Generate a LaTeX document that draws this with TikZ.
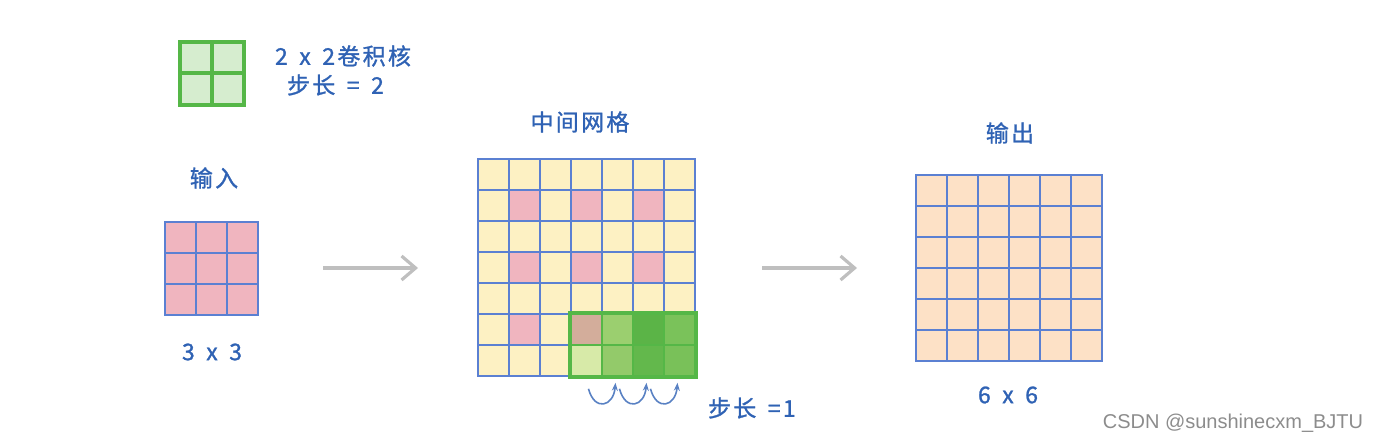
\documentclass[tikz,border=0pt]{standalone}
\usepackage{fontspec}
\setmainfont{Liberation Sans}
\newfontfamily\cjk[FakeBold=1.2, LetterSpace=10]{Noto Sans CJK SC}
\usetikzlibrary{arrows.meta}

\definecolor{gridblue}{HTML}{5B80D2}
\definecolor{textblue}{HTML}{2F62B4}
\definecolor{pinkcell}{HTML}{F0B5BF}
\definecolor{yellowcell}{HTML}{FDF1C3}
\definecolor{peachcell}{HTML}{FDE1C6}
\definecolor{kgreen}{HTML}{55B747}
\definecolor{kfill}{HTML}{D6EDCF}

\tikzset{
  cell/.style={draw=gridblue, line width=0.8pt, minimum size=15.5pt, inner sep=0pt},
  kcell/.style={draw=kgreen, line width=1.6pt, minimum size=16pt, inner sep=0pt, fill=kfill},
  title/.style={text=textblue, font=\cjk\fontsize{11.5}{13}\selectfont},
  flow/.style={draw=black!25, line width=1.6pt, -{Straight Barb[length=7pt, width=12pt]}},
  hop/.style={draw=textblue!80, line width=0.8pt, -{Stealth[length=4pt]}},
}

\begin{document}
\begin{tikzpicture}[x=0.5pt, y=-0.5pt]
    \useasboundingbox (0,0) rectangle (1383,444);

    % kernel icon
    \foreach \r in {0,1}
      \foreach \c in {0,1}
        \node[kcell] (k-\r-\c) at ({196+32*\c}, {58+31*\r}) {};
    \node[title, anchor=west] (ktext) at (268,56) {2\enspace x\enspace 2卷积核};
    \node[title, anchor=west] (stride2) at (280,85) {步长\enspace =\enspace 2};

    % input 3x3
    \node[title] (intitle) at (214,178) {输入};
    \foreach \r in {0,...,2}
      \foreach \c in {0,...,2}
        \node[cell, fill=pinkcell] (i-\r-\c) at ({180.5+31*\c}, {237.5+31*\r}) {};
    \node[title] (insize) at (212,352) {3\enspace x\enspace 3};

    % middle 7x7
    \node[title] (midtitle) at (580,122) {中间网格};
    \foreach \r in {0,...,6}
      \foreach \c in {0,...,6}
        \node[cell, fill=yellowcell] (m-\r-\c) at ({493.5+31*\c}, {174.5+31*\r}) {};
    \foreach \r/\c in {1/1,1/3,1/5,3/1,3/3,3/5,5/1}
        \node[cell, fill=pinkcell] at (m-\r-\c) {};

    % kernel sliding over the last rows
    \foreach \r/\c/\shade in {5/3/D3AD9B,5/4/9BCF6F,5/5/5BB447,5/6/7AC25A,
                              6/3/D7EAA8,6/4/93CA6A,6/5/63B84C,6/6/79C159}
      {
        \definecolor{tmp}{HTML}{\shade}
        \node[cell, draw=kgreen, line width=1.4pt, fill=tmp] at (m-\r-\c) {};
      }
    \draw[kgreen, line width=2pt] (m-5-3.north west) rectangle (m-6-6.south east);

    % stride 1 hops
    \foreach \a/\b in {3/4,4/5,5/6}
        \draw[hop] ([xshift=1pt, yshift=-6pt]m-6-\a.south)
            to[out=-75, in=-95, looseness=2.2] ([xshift=-1pt, yshift=-3pt]m-6-\b.south);
    \node[title, anchor=west] (stride1) at (701,408) {步长\enspace =1};

    % arrows
    \coordinate (a1s) at (323,268);
    \coordinate (a1e) at (418,268);
    \coordinate (a2s) at (762,268);
    \coordinate (a2e) at (857,268);
    \draw[flow] (a1s) -- (a1e);
    \draw[flow] (a2s) -- (a2e);

    % output 6x6
    \node[title] (outtitle) at (1010,133) {输出};
    \foreach \r in {0,...,5}
      \foreach \c in {0,...,5}
        \node[cell, fill=peachcell] (o-\r-\c) at ({931.5+31*\c}, {190.5+31*\r}) {};
    \node[title] (outsize) at (1008,395) {6\enspace x\enspace 6};

    \node[text=black!45, font=\fontsize{10}{12}\selectfont] (mark) at (1233,423) {CSDN @sunshinecxm\_BJTU};
\end{tikzpicture}
\end{document}
